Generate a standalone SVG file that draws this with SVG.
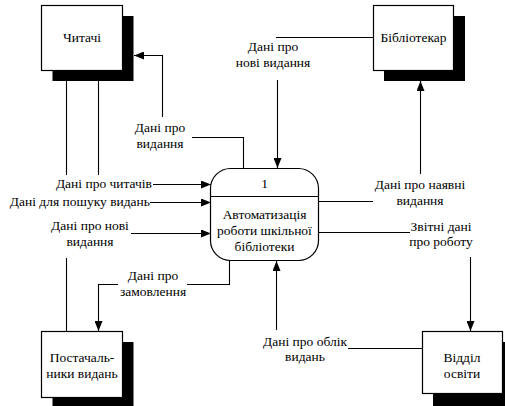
<svg xmlns="http://www.w3.org/2000/svg" width="505" height="406" viewBox="0 0 505 406" font-family="'Liberation Serif', 'DejaVu Serif', serif" font-size="13.5">
<style>
text{font-family:'Liberation Serif','DejaVu Serif',serif;font-size:13.5px;fill:#000;text-anchor:middle}
.box{fill:#fff;stroke:#000;stroke-width:1.2}
.sh{fill:#000}
.c{fill:none;stroke:#000;stroke-width:1.1}
</style>
<defs>
<marker id="ar" markerUnits="userSpaceOnUse" markerWidth="10" markerHeight="8" refX="10" refY="4" orient="auto">
<path d="M0,0 L10,4 L0,8 Z" fill="#000"/>
</marker>
</defs>
<rect width="505" height="406" fill="#fff"/>
<g id="chytachi">
<rect class="sh" x="52.5" y="16" width="81" height="65"/>
<rect class="box" x="41.5" y="5.5" width="81" height="65"/>
<text x="82" y="42">Читачі</text>
</g>
<g id="bibliotekar">
<rect class="sh" x="384" y="16" width="81" height="65"/>
<rect class="box" x="373.5" y="5.5" width="80" height="65"/>
<text x="413.5" y="42">Бібліотекар</text>
</g>
<g id="postachalnyky">
<rect class="sh" x="52.5" y="342" width="81" height="66"/>
<rect class="box" x="41.5" y="331.5" width="81" height="66"/>
<text x="82" y="362">Постачаль-</text>
<text x="82" y="378">ники видань</text>
</g>
<g id="viddil">
<rect class="sh" x="433" y="342" width="81" height="64"/>
<rect class="box" x="422.5" y="331.5" width="80" height="62"/>
<text x="462" y="362">Відділ</text>
<text x="462" y="378">освіти</text>
</g>
<g id="process">
<rect class="box" x="210.5" y="168.5" width="108" height="92" rx="20" ry="20"/>
<line x1="210.5" y1="196.5" x2="318.5" y2="196.5" stroke="#000" stroke-width="1.2"/>
<text x="264.5" y="188">1</text>
<text x="264.5" y="219">Автоматизація</text>
<text x="264.5" y="235">роботи шкільної</text>
<text x="264.5" y="251">бібліотеки</text>
</g>
<g id="connectors">
<path class="c" d="M243.5,168 V137.5 H192"/>
<path class="c" d="M162.5,117 V55.5 H134" marker-end="url(#ar)"/>
<path class="c" d="M66.5,81 V175"/>
<path class="c" d="M98.5,81 V175"/>
<path class="c" d="M153,184.5 H211" marker-end="url(#ar)"/>
<path class="c" d="M150,202.5 H211" marker-end="url(#ar)"/>
<path class="c" d="M66.5,331 V258"/>
<path class="c" d="M131,233.5 H211" marker-end="url(#ar)"/>
<path class="c" d="M229.5,260 V284.5 H187"/>
<path class="c" d="M118,284.5 H98.5 V331" marker-end="url(#ar)"/>
<path class="c" d="M318,201.5 H373"/>
<path class="c" d="M420.5,174 V81" marker-end="url(#ar)"/>
<path class="c" d="M373,37.5 H276"/>
<path class="c" d="M277.5,80 V168" marker-end="url(#ar)"/>
<path class="c" d="M318,232.5 H410"/>
<path class="c" d="M470.5,257 V331" marker-end="url(#ar)"/>
<path class="c" d="M422,348.5 H348"/>
<path class="c" d="M276.5,330 V261" marker-end="url(#ar)"/>
</g>
<g id="labels">
<text x="160" y="132">Дані про</text>
<text x="160" y="148">видання</text>
<text x="273" y="51">Дані про</text>
<text x="273" y="67">нові видання</text>
<text x="152" y="188" style="text-anchor:end">Дані про читачів</text>
<text x="150" y="206" style="text-anchor:end">Дані для пошуку видань</text>
<text x="90" y="230">Дані про нові</text>
<text x="90" y="246">видання</text>
<text x="153" y="280">Дані про</text>
<text x="153" y="296">замовлення</text>
<text x="420" y="189">Дані про наявні</text>
<text x="420" y="205">видання</text>
<text x="441" y="231">Звітні дані</text>
<text x="441" y="246">про роботу</text>
<text x="305" y="346">Дані про облік</text>
<text x="305" y="361">видань</text>
</g>
</svg>
